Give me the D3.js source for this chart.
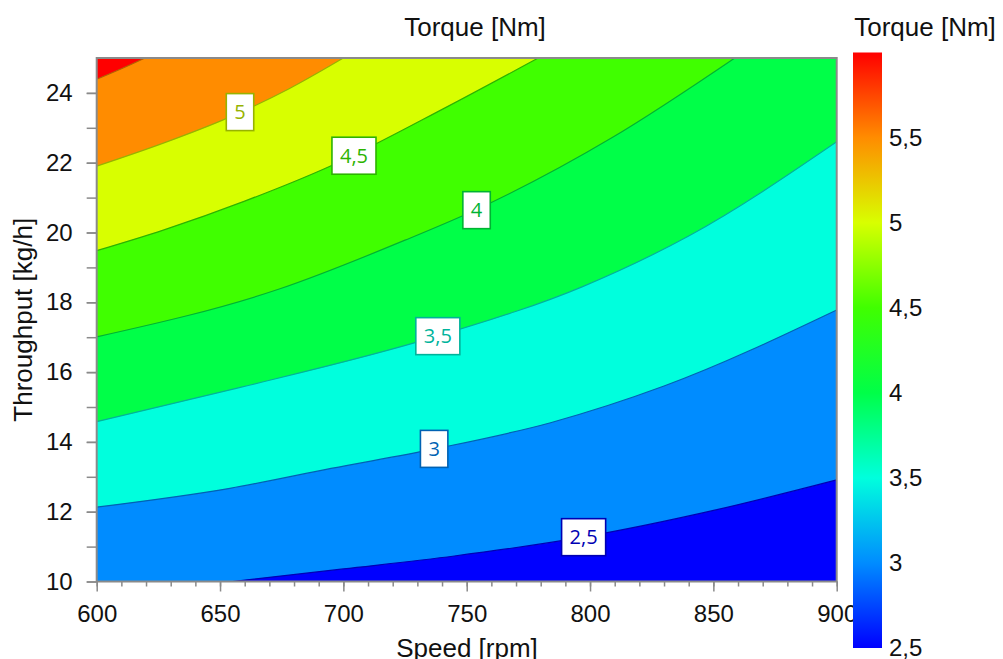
<!DOCTYPE html>
<html>
<head>
<meta charset="utf-8">
<script src="https://cdn.jsdelivr.net/npm/d3@7"></script>
<style>
  body { margin: 0; background: #fff; }
  svg { display: block; }
  text { font-family: "Liberation Sans", Arial, sans-serif; fill: #111; }
</style>
</head>
<body>
<svg id="chart" width="1003" height="659"></svg>
<script>
// ---- data ----------------------------------------------------------------
const speedDomain = [600, 900];        // rpm
const throughputDomain = [10, 25];     // kg/h
const levels = [2.5, 3, 3.5, 4, 4.5, 5, 5.5];

// torque colour scale (Nm -> colour)
const colorStops  = [2.5, 3, 3.5, 4, 4.5, 5, 5.5, 6];
const colorValues = ["#0000ff", "#008cff", "#00ffdd", "#00ff48", "#40ff00", "#d8ff00", "#ff8c00", "#ff0000"];

// iso-torque lines: [speed rpm, throughput kg/h]
const contour25 = [[655, 10], [700, 10.36], [745, 10.73], [797, 11.27], [851, 12.05], [900, 12.91]];
const contour30 = [[600, 12.13], [654, 12.67], [695, 13.24], [737, 13.8], [784, 14.55], [830, 15.6], [900, 17.78]];
const contour35 = [[600, 14.58], [654, 15.49], [738, 17.03], [797, 18.45], [840, 19.9], [900, 22.6]];
const contour40 = [[600, 17.01], [674, 18.38], [725, 19.78], [754, 20.66], [809, 22.72], [858.7, 25]];
const contour45 = [[600, 19.48], [627, 20.07], [660, 20.9], [694.6, 21.9], [742, 23.6], [779, 25]];
const contour50 = [[600, 21.9], [627, 22.56], [652.7, 23.27], [678, 24.12], [700, 25]];
const contour55 = [[600, 24.39], [610, 24.69], [619.6, 25]];
const contours = [contour25, contour30, contour35, contour40, contour45, contour50, contour55];

// inline label anchors: [speed rpm, throughput kg/h] (none for 5,5)
const labelAnchors = [[797.4, 11.27], [736.8, 13.8], [738.3, 17.03], [754, 20.64], [704.3, 22.2], [658.1, 23.45], null];

const xTicks = [600, 650, 700, 750, 800, 850, 900];
const xMinorTicks = d3.range(600, 901, 10);
const yTicks = [10, 12, 14, 16, 18, 20, 22, 24];
const yMinorTicks = d3.range(10, 25, 1);
const colorbarTicks = [2.5, 3, 3.5, 4, 4.5, 5, 5.5];

// ---- setup ----------------------------------------------------------------
const svg = d3.select("#chart");
const plot = { left: 96.7, right: 836.7, top: 58, bottom: 581.5 };

const x = d3.scaleLinear(speedDomain, [plot.left, plot.right]);
const y = d3.scaleLinear(throughputDomain, [plot.bottom, plot.top]);
const color = d3.scaleLinear(colorStops, colorValues);
const lineColor = v => d3.color(color(v)).darker(1).formatHex();

const locale = d3.formatLocale({ decimal: ",", thousands: ".", grouping: [3], currency: ["", " €"] });
const fmt = locale.format("~g");

svg.append("defs").append("clipPath").attr("id", "plot-clip")
  .append("rect")
  .attr("x", plot.left).attr("y", plot.top)
  .attr("width", plot.right - plot.left).attr("height", plot.bottom - plot.top);

const field = svg.append("g").attr("clip-path", "url(#plot-clip)");

// band below the lowest level
field.append("rect")
  .attr("x", plot.left).attr("y", plot.top)
  .attr("width", plot.right - plot.left).attr("height", plot.bottom - plot.top)
  .attr("fill", color(levels[0]));

const line = d3.line().x(d => x(d[0])).y(d => y(d[1])).curve(d3.curveMonotoneX);

// each region above an iso-line gets the colour of the next level up
contours.forEach((pts, i) => {
  const upper = i + 1 < levels.length ? levels[i + 1] : colorStops[colorStops.length - 1];
  const first = pts[0], last = pts[pts.length - 1];
  const path = line(pts) +
    `L${x(last[0])},${y(throughputDomain[1])}` +
    `L${x(speedDomain[0])},${y(throughputDomain[1])}` +
    `L${x(speedDomain[0])},${y(first[1])}Z`;
  field.append("path").attr("d", path).attr("fill", color(upper));
});

// iso-lines
contours.forEach((pts, i) => {
  field.append("path")
    .attr("d", line(pts))
    .attr("fill", "none")
    .attr("stroke", lineColor(levels[i]))
    .attr("stroke-width", 1.2);
});

// inline labels
contours.forEach((pts, i) => {
  const a = labelAnchors[i];
  if (!a) return;
  const c = lineColor(levels[i]);
  const g = svg.append("g").attr("transform", `translate(${x(a[0])},${y(a[1])})`);
  const rect = g.append("rect").attr("fill", "#fff").attr("stroke", c).attr("stroke-width", 1.6);
  const t = g.append("text")
    .attr("text-anchor", "middle")
    .attr("dy", "0.36em")
    .style("font-family", "'Open Sans', 'Noto Sans', sans-serif")
    .style("font-size", "20px")
    .style("fill", c)
    .text(fmt(levels[i]));
  const w = t.node().getComputedTextLength() + 16;
  const h = 37;
  rect.attr("x", -w / 2).attr("y", -h / 2).attr("width", w).attr("height", h);
});

// ---- axes -----------------------------------------------------------------
const axisColor = "#8a8a8a";

const gx = svg.append("g").attr("transform", `translate(0,${plot.bottom})`);
gx.append("g").call(d3.axisBottom(x).tickValues(xMinorTicks).tickSize(5).tickFormat(""));
gx.append("g").call(d3.axisBottom(x).tickValues(xTicks).tickSize(10).tickPadding(13).tickFormat(fmt));

const gy = svg.append("g").attr("transform", `translate(${plot.left},0)`);
gy.append("g").call(d3.axisLeft(y).tickValues(yMinorTicks).tickSize(10).tickFormat(""));
gy.append("g").call(d3.axisLeft(y).tickValues(yTicks).tickSize(10).tickPadding(14).tickFormat(fmt));

svg.selectAll(".domain").remove();
svg.selectAll(".tick line").attr("stroke", axisColor).attr("stroke-width", 1.5);
svg.selectAll(".tick text").style("font-size", "24px").style("fill", "#111")
  .attr("font-family", null);

// plot frame
svg.append("rect")
  .attr("x", plot.left).attr("y", plot.top)
  .attr("width", plot.right - plot.left).attr("height", plot.bottom - plot.top)
  .attr("fill", "none").attr("stroke", axisColor).attr("stroke-width", 2);

// titles
svg.append("text").attr("x", 475).attr("y", 36).attr("text-anchor", "middle")
  .style("font-size", "26px").text("Torque [Nm]");
svg.append("text").attr("x", 467).attr("y", 657).attr("text-anchor", "middle")
  .style("font-size", "26px").text("Speed [rpm]");
svg.append("text").attr("transform", `translate(32,${(plot.top + plot.bottom) / 2}) rotate(-90)`)
  .attr("text-anchor", "middle").style("font-size", "26px").text("Throughput [kg/h]");

// ---- colour bar -----------------------------------------------------------
const cb = { x: 853, width: 29 };
const cScale = d3.scaleLinear([colorStops[0], colorStops[colorStops.length - 1]], [648, 52.5]);

const grad = svg.select("defs").append("linearGradient")
  .attr("id", "torque-grad").attr("x1", 0).attr("y1", 1).attr("x2", 0).attr("y2", 0);
colorStops.forEach((v, i) => {
  grad.append("stop")
    .attr("offset", (v - colorStops[0]) / (colorStops[colorStops.length - 1] - colorStops[0]))
    .attr("stop-color", colorValues[i]);
});

svg.append("rect")
  .attr("x", cb.x).attr("y", cScale(colorStops[colorStops.length - 1]))
  .attr("width", cb.width)
  .attr("height", cScale(colorStops[0]) - cScale(colorStops[colorStops.length - 1]))
  .attr("fill", "url(#torque-grad)");

svg.append("g").selectAll("text").data(colorbarTicks).join("text")
  .attr("x", 889).attr("y", d => cScale(d)).attr("dy", "0.35em")
  .style("font-size", "24px").text(d => fmt(d));

svg.append("text").attr("x", 925).attr("y", 36).attr("text-anchor", "middle")
  .style("font-size", "26px").text("Torque [Nm]");
</script>
</body>
</html>
